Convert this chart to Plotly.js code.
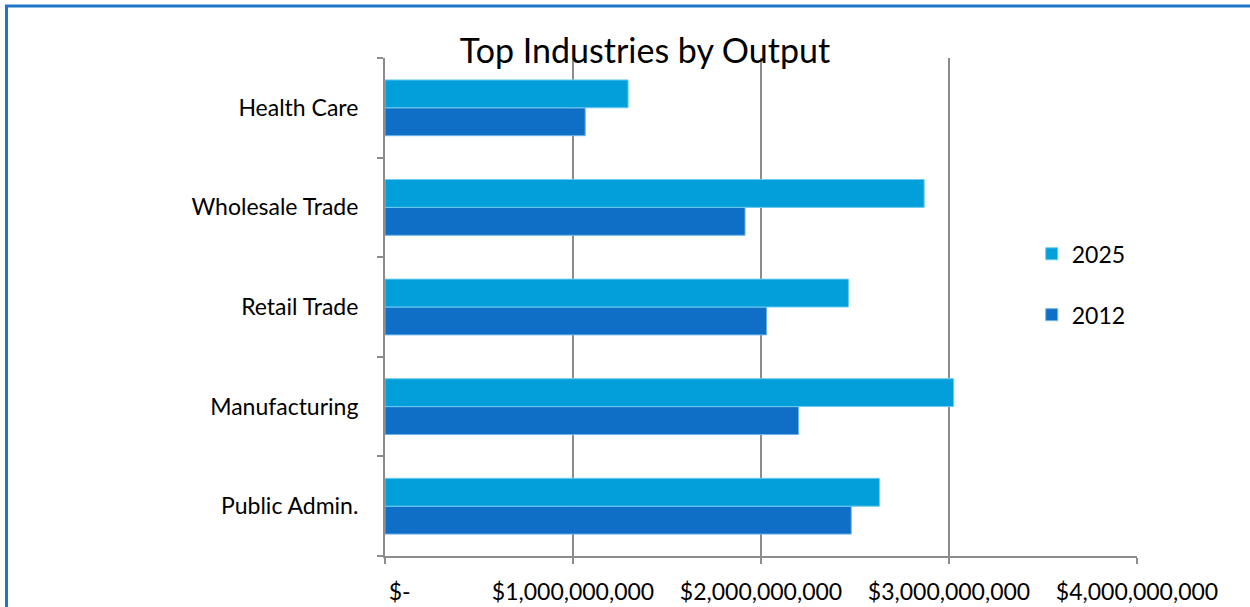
<!DOCTYPE html>
<html>
<head>
<meta charset="utf-8">
<script src="https://cdn.plot.ly/plotly-3.0.1.min.js"></script>
<style>
  html, body { margin: 0; padding: 0; background: #fff; overflow: hidden; }
  #chart { width: 1250px; height: 607px; }
</style>
</head>
<body>
<div id="chart"></div>
<script>
// Categories listed bottom-to-top (Plotly category axis starts at the bottom)
const categories = ['Public Admin.', 'Manufacturing', 'Retail Trade', 'Wholesale Trade', 'Health Care'];
const values2012 = [2.48e9, 2.20e9, 2.03e9, 1.915e9, 1.065e9];
const values2025 = [2.63e9, 3.025e9, 2.465e9, 2.868e9, 1.293e9];
const xTickVals = [0, 1e9, 2e9, 3e9, 4e9];
const xTickText = ['\u00a0\u00a0\u00a0\u00a0\u00a0$-', '$1,000,000,000', '$2,000,000,000', '$3,000,000,000', '$4,000,000,000'];

const FONT = 'Lato, "Open Sans", "DejaVu Sans", sans-serif';
const gridCol = '#8c8c8c';

const traces = [
  {
    type: 'bar', orientation: 'h', name: '2012',
    y: categories, x: values2012,
    legendgroup: 'g2012', legendrank: 2,
    marker: { color: '#0F6FC6', line: { color: '#6fb6e8', width: 1 } },
    hoverinfo: 'x+y'
  },
  {
    type: 'bar', orientation: 'h', name: '2025',
    y: categories, x: values2025,
    legendgroup: 'g2025', legendrank: 1,
    marker: { color: '#039FDA', line: { color: '#6fcbef', width: 1 } },
    hoverinfo: 'x+y'
  }
];

const layout = {
  width: 1250, height: 607,
  margin: { l: 385, r: 113, t: 58, b: 51 },
  paper_bgcolor: '#ffffff',
  plot_bgcolor: '#ffffff',
  font: { family: FONT, color: '#000', size: 23 },
  title: {
    text: 'Top Industries by Output',
    font: { family: FONT, size: 34, color: '#000' },
    xref: 'container', x: 0.516, xanchor: 'center',
    yref: 'container', y: 0.915, yanchor: 'middle'
  },
  barmode: 'group',
  bargap: 0.44,
  bargroupgap: 0,
  showlegend: true,
  legend: {
    traceorder: 'grouped',
    tracegroupgap: 28,
    x: 0.86, xanchor: 'left',
    y: 0.65, yanchor: 'top',
    bgcolor: 'rgba(0,0,0,0)',
    font: { family: FONT, size: 23, color: '#000' }
  },
  xaxis: {
    range: [0, 4e9],
    tickvals: xTickVals,
    ticktext: xTickText,
    showgrid: true, gridcolor: gridCol, gridwidth: 2,
    zeroline: false,
    showline: true, linecolor: gridCol, linewidth: 2,
    ticks: 'outside', ticklen: 6, tickcolor: gridCol, tickwidth: 2,
    ticklabelstandoff: 8,
    tickfont: { family: FONT, size: 23, color: '#000' },
    fixedrange: true
  },
  yaxis: {
    type: 'category',
    categoryorder: 'array', categoryarray: categories,
    tickson: 'boundaries',
    showgrid: false,
    showline: true, linecolor: gridCol, linewidth: 2,
    ticks: 'outside', ticklen: 6, tickcolor: gridCol, tickwidth: 2,
    ticklabelstandoff: 20,
    tickfont: { family: FONT, size: 23, color: '#000' },
    fixedrange: true
  },
  shapes: [
    {
      type: 'rect', xref: 'paper', yref: 'paper',
      x0: (6.5 - 385) / 752, x1: 2, y0: -1, y1: (556 - 6) / 498,
      line: { color: '#1F75C8', width: 3 }, fillcolor: 'rgba(0,0,0,0)', layer: 'above'
    }
  ]
};

Plotly.newPlot('chart', traces, layout, { displayModeBar: false, staticPlot: true });
</script>
</body>
</html>
